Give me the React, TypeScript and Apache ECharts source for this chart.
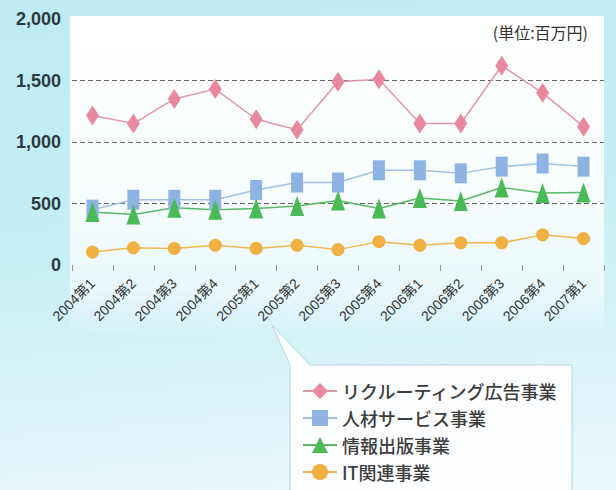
import React, { useEffect, useRef } from "react";
import * as echarts from "echarts";

const categories = [
  "2004第1", "2004第2", "2004第3", "2004第4",
  "2005第1", "2005第2", "2005第3", "2005第4",
  "2006第1", "2006第2", "2006第3", "2006第4",
  "2007第1",
];
const seriesNames = ["リクルーティング広告事業", "人材サービス事業", "情報出版事業", "IT関連事業"];
const recruitAd = [1215, 1150, 1350, 1430, 1185, 1100, 1490, 1510, 1150, 1150, 1620, 1400, 1125];
const hrService = [450, 530, 530, 530, 610, 670, 670, 770, 770, 745, 800, 825, 800];
const infoPublishing = [430, 410, 465, 450, 460, 480, 525, 460, 545, 520, 630, 585, 590];
const itBusiness = [105, 140, 135, 160, 135, 160, 125, 190, 160, 180, 180, 245, 215];
const yTicks = { min: 0, max: 2000, interval: 500 };
const unitLabel = "(単位:百万円)";

const JP = "'Noto Sans CJK JP', 'Noto Sans', sans-serif";
const NUM = "'Liberation Sans', 'Noto Sans CJK JP', sans-serif";

export default function App() {
  const ref = useRef<HTMLDivElement>(null);
  useEffect(() => {
    if (!ref.current) return;
    const chart = echarts.init(ref.current, null, { renderer: "svg" });
    const mk = (
      name: string,
      data: number[],
      symbol: string,
      size: number | number[],
      lineColor: string,
      markColor: string
    ) => ({
      name,
      type: "line",
      data,
      symbol,
      symbolSize: size,
      showSymbol: true,
      lineStyle: { color: lineColor, width: 1.5 },
      itemStyle: { color: markColor },
      emphasis: { disabled: true },
      z: 3,
    });
    chart.setOption({
      animation: false,
      backgroundColor: "transparent",
      grid: { left: 72, right: 12, top: 19, bottom: 225 },
      legend: {
        orient: "vertical",
        left: 297,
        top: 377,
        itemWidth: 34,
        itemHeight: 20,
        itemGap: 9,
        data: seriesNames,
        textStyle: { fontSize: 18, color: "#3d3d3d", fontWeight: 500, fontFamily: JP },
        selectedMode: false,
      },
      graphic: [
        {
          type: "rect",
          z: -10,
          shape: { x: 70, y: 16, width: 534, height: 320 },
          style: {
            fill: new echarts.graphic.LinearGradient(0, 0, 0, 1, [
              { offset: 0, color: "rgba(255,255,255,1)" },
              { offset: 0.6, color: "rgba(246,252,253,1)" },
              { offset: 0.85, color: "rgba(246,252,253,0.7)" },
              { offset: 1, color: "rgba(246,252,253,0)" },
            ]),
          },
          silent: true,
        },
        {
          type: "polygon",
          z: -5,
          shape: {
            points: [
              [290, 500], [290, 365], [272, 325], [310, 365], [572, 365], [572, 500],
            ],
          },
          style: { fill: "#fcfeff", stroke: "#b8d3df", lineWidth: 1 },
          silent: true,
        },
        {
          type: "text",
          right: 28,
          top: 24,
          style: { text: unitLabel, fontSize: 16, fill: "#333", fontFamily: JP },
        },
      ],
      xAxis: {
        type: "category",
        data: categories,
        boundaryGap: true,
        axisLine: { show: false },
        axisTick: { show: true, length: 6, lineStyle: { color: "#999" } },
        axisLabel: {
          rotate: 45,
          interval: 0,
          fontSize: 14,
          color: "#333",
          margin: 16,
          fontFamily: NUM,
        },
        splitLine: { show: false },
      },
      yAxis: {
        type: "value",
        min: yTicks.min,
        max: yTicks.max,
        interval: yTicks.interval,
        axisLine: { show: false },
        axisTick: { show: false },
        axisLabel: {
          fontSize: 18,
          fontWeight: "bold",
          color: "#2b3a40",
          margin: 11,
          padding: [0, 0, 7, 0],
          fontFamily: NUM,
        },
        splitLine: {
          show: true,
          lineStyle: {
            color: ["rgba(0,0,0,0)", "#666", "#666", "#666", "rgba(0,0,0,0)"],
            type: [5, 3],
            width: 1,
          },
        },
      },
      series: [
        mk(seriesNames[0], recruitAd, "diamond", [13, 20], "#e596aa", "#e8879e"),
        mk(seriesNames[1], hrService, "rect", [12, 20], "#a3c0e6", "#8db3e3"),
        mk(seriesNames[2], infoPublishing, "triangle", [14, 20], "#5bb866", "#4aba57"),
        mk(seriesNames[3], itBusiness, "circle", 13, "#f2b64c", "#f0b042"),
      ],
    });
    return () => chart.dispose();
  }, []);
  return (
    <div
      ref={ref}
      style={{
        position: "absolute",
        left: 0,
        top: 0,
        width: 616,
        height: 490,
        background:
          "linear-gradient(175deg, #bdeaf3 0%, #c6eef6 45%, #dcf4f8 80%, #eaf8fb 100%)",
      }}
    />
  );
}
